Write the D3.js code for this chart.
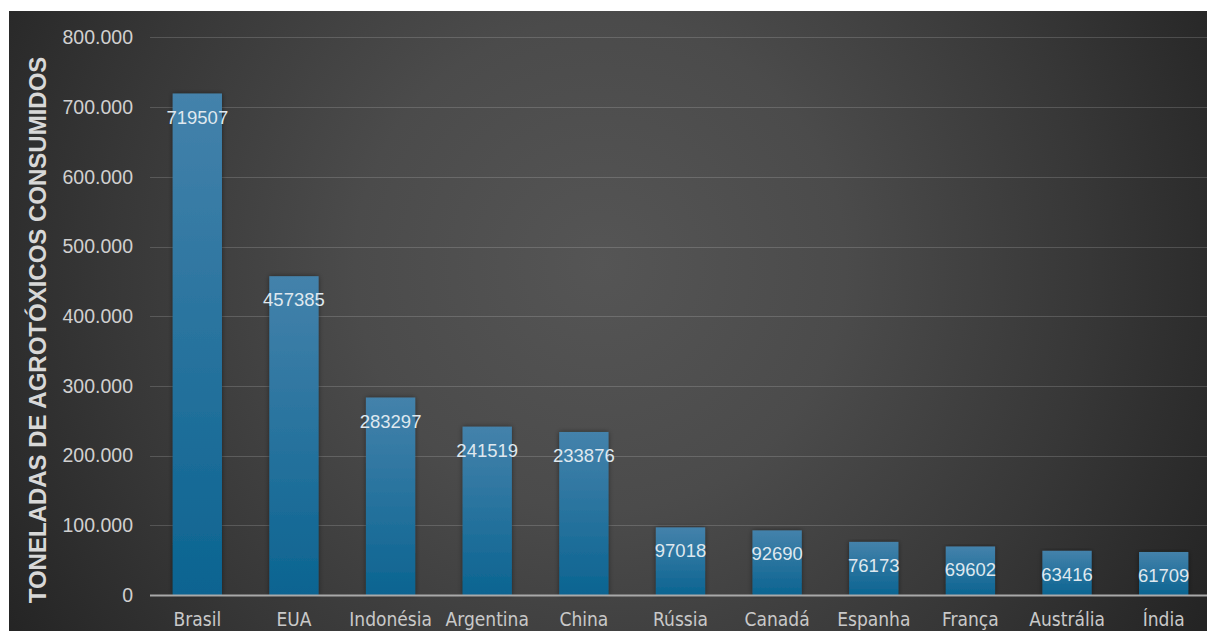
<!DOCTYPE html>
<html>
<head>
<meta charset="utf-8">
<script src="https://cdnjs.cloudflare.com/ajax/libs/d3/7.8.5/d3.min.js"></script>
<style>
  html, body { margin: 0; padding: 0; background: #fff; }
  svg { display: block; }
</style>
</head>
<body>
<svg id="chart" width="1207" height="631"></svg>
<script>
// chart data
var countries = ['Brasil', 'EUA', 'Indonésia', 'Argentina', 'China', 'Rússia', 'Canadá', 'Espanha', 'França', 'Austrália', 'Índia'];
var tonnes = [719507, 457385, 283297, 241519, 233876, 97018, 92690, 76173, 69602, 63416, 61709];
var yTicks = [0, 100000, 200000, 300000, 400000, 500000, 600000, 700000, 800000];
var yTitle = 'TONELADAS DE AGROTÓXICOS CONSUMIDOS';

(function() {

	var svg = d3.select('#chart'),
		width = 1207,
		height = 631;

	var panelLeft = 9,
		panelTop = 11,
		plotLeft = 149,
		plotRight = 1212,
		plotTop = 37.4,
		plotBottom = 595;

	var ptBR = d3.formatLocale({ decimal: ',', thousands: '.', grouping: [3], currency: ['R$', ''] }),
		fmtTick = ptBR.format(',');

	var data = countries.map(function(c, i) {
		return { country: c, value: tonnes[i] };
	});

	var defs = svg.append('defs');

	var bg = defs.append('radialGradient')
		.attr('id', 'bgGrad')
		.attr('gradientUnits', 'userSpaceOnUse')
		.attr('cx', 600).attr('cy', 265).attr('r', 700);
	[[0, '#555555'], [0.35, '#4b4b4b'], [0.7, '#373737'], [1, '#242424']].forEach(function(s) {
		bg.append('stop').attr('offset', s[0]).attr('stop-color', s[1]);
	});

	var barGrad = defs.append('linearGradient')
		.attr('id', 'barGrad')
		.attr('x1', 0).attr('y1', 0).attr('x2', 0).attr('y2', 1);
	barGrad.append('stop').attr('offset', 0).attr('stop-color', '#4482ab');
	barGrad.append('stop').attr('offset', 1).attr('stop-color', '#0b6491');

	var shadow = defs.append('filter').attr('id', 'barShadow')
		.attr('x', '-20%').attr('y', '-5%').attr('width', '140%').attr('height', '110%');
	shadow.append('feDropShadow')
		.attr('dx', 0).attr('dy', 0).attr('stdDeviation', 2.5)
		.attr('flood-color', '#000').attr('flood-opacity', 0.45);

	// white strip + dark panel
	svg.append('rect').attr('width', width).attr('height', height).attr('fill', '#ffffff');
	svg.append('rect')
		.attr('x', panelLeft).attr('y', panelTop)
		.attr('width', width - panelLeft).attr('height', height - panelTop)
		.attr('fill', 'url(#bgGrad)');

	var x = d3.scaleBand()
		.domain(countries)
		.range([plotLeft, plotRight])
		.paddingInner(0.49)
		.paddingOuter(0.245);

	var y = d3.scaleLinear()
		.domain([0, 800000])
		.range([plotBottom, plotTop]);

	// gridlines
	svg.append('g')
		.attr('class', 'grid')
		.selectAll('line')
		.data(yTicks.filter(function(t) { return t > 0; }))
		.enter()
			.append('line')
			.attr('x1', 150)
			.attr('x2', width)
			.attr('y1', function(d) { return Math.round(y(d)) + 0.5; })
			.attr('y2', function(d) { return Math.round(y(d)) + 0.5; })
			.attr('stroke', 'rgba(255,255,255,0.16)')
			.attr('stroke-width', 1.2);

	// y axis labels
	var yAxis = d3.axisLeft(y)
		.tickValues(yTicks)
		.tickFormat(function(d) { return fmtTick(d); })
		.tickSize(0)
		.tickPadding(0);

	var yg = svg.append('g')
		.attr('transform', 'translate(133,0)')
		.call(yAxis);
	yg.select('.domain').remove();
	yg.selectAll('text')
		.attr('fill', '#d0d0d0')
		.attr('font-family', '"Liberation Sans", Arial, sans-serif')
		.attr('font-size', 19.5);

	// bars
	var groups = svg.append('g')
		.selectAll('g')
		.data(data)
		.enter()
			.append('g')
			.attr('class', 'bar');

	groups.append('rect')
		.attr('x', function(d) { return x(d.country); })
		.attr('y', function(d) { return y(d.value); })
		.attr('width', x.bandwidth())
		.attr('height', function(d) { return plotBottom - y(d.value); })
		.attr('fill', 'url(#barGrad)')
		.attr('filter', 'url(#barShadow)');

	groups.append('text')
		.attr('x', function(d) { return x(d.country) + x.bandwidth() / 2; })
		.attr('y', function(d) { return y(d.value) + 30; })
		.attr('text-anchor', 'middle')
		.attr('fill', '#dfe8ef')
		.attr('font-family', '"Liberation Sans", Arial, sans-serif')
		.attr('font-size', 18.5)
		.text(function(d) { return d.value; });

	// baseline
	svg.append('line')
		.attr('x1', 150).attr('x2', width)
		.attr('y1', plotBottom + 0.5).attr('y2', plotBottom + 0.5)
		.attr('stroke', '#a9a9a9')
		.attr('stroke-width', 2);

	// category labels
	var xAxis = d3.axisBottom(x).tickSize(0).tickPadding(0);
	var xg = svg.append('g')
		.attr('transform', 'translate(0,' + plotBottom + ')')
		.call(xAxis);
	xg.select('.domain').remove();
	xg.selectAll('text')
		.attr('fill', '#c9c9c9')
		.attr('font-family', '"Liberation Sans Narrow", "DejaVu Sans Condensed", sans-serif')
		.attr('font-size', 19)
		.attr('dy', null)
		.attr('y', 31);

	// y title
	svg.append('text')
		.attr('transform', 'translate(46,330) rotate(-90)')
		.attr('text-anchor', 'middle')
		.attr('fill', '#d8d8d8')
		.attr('font-family', '"Liberation Sans", Arial, sans-serif')
		.attr('font-weight', 'bold')
		.attr('font-size', 24)
		.text(yTitle);

}());
</script>
</body>
</html>
